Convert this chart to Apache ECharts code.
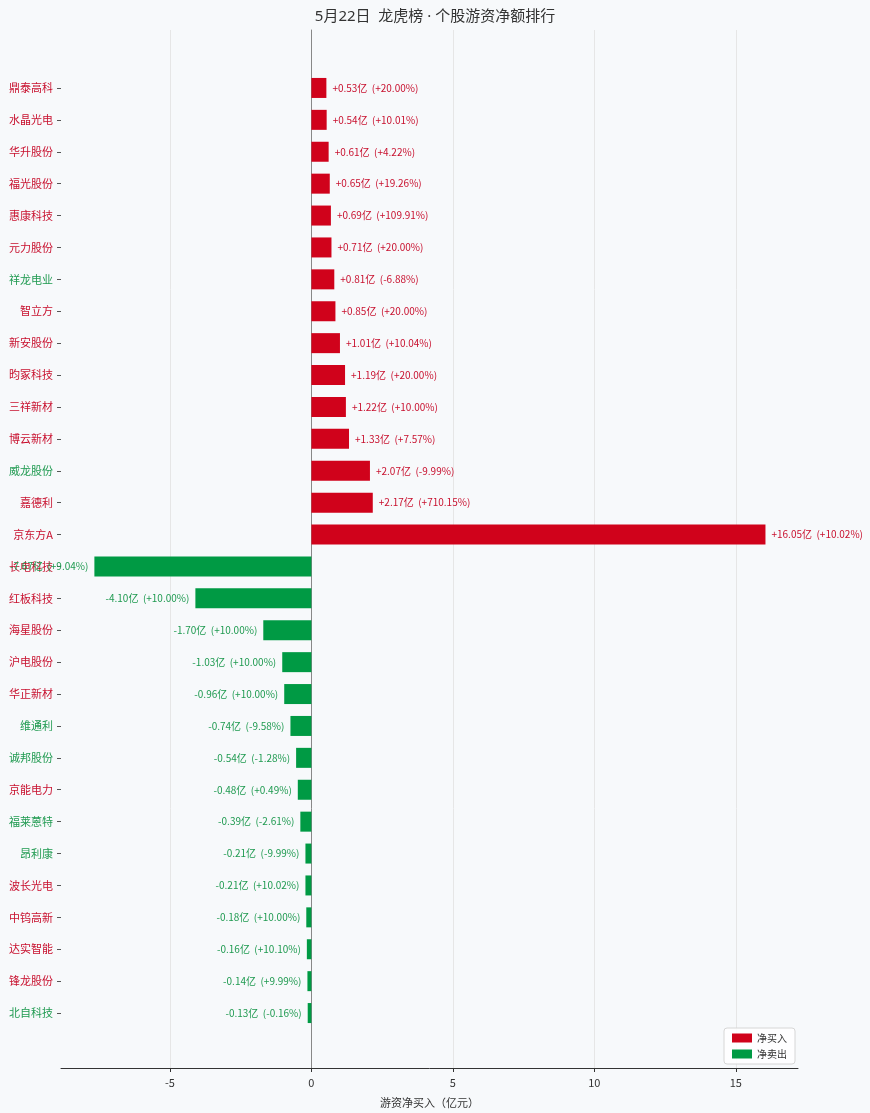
<!DOCTYPE html>
<html>
<head>
<meta charset="utf-8">
<script src="https://cdn.jsdelivr.net/npm/echarts@6/dist/echarts.min.js"></script>
<style>
  html, body { margin: 0; padding: 0; background: #f7f9fb; }
  #main { width: 870px; height: 1113px; }
</style>
</head>
<body>
<div id="main"></div>
<script>
// 个股名称（自上而下）
const stocks = ['鼎泰高科', '水晶光电', '华升股份', '福光股份', '惠康科技', '元力股份', '祥龙电业', '智立方',
  '新安股份', '昀冢科技', '三祥新材', '博云新材', '威龙股份', '嘉德利', '京东方A', '长电科技', '红板科技',
  '海星股份', '沪电股份', '华正新材', '维通利', '诚邦股份', '京能电力', '福莱蒽特', '昂利康', '波长光电',
  '中钨高新', '达实智能', '锋龙股份', '北自科技'];
// 游资净买入（亿元）
const netAmount = [0.53, 0.54, 0.61, 0.65, 0.69, 0.71, 0.81, 0.85, 1.01, 1.19, 1.22, 1.33, 2.07, 2.17, 16.05,
  -7.67, -4.10, -1.70, -1.03, -0.96, -0.74, -0.54, -0.48, -0.39, -0.21, -0.21, -0.18, -0.16, -0.14, -0.13];
// 当日涨跌幅（%）
const pctChange = [20.00, 10.01, 4.22, 19.26, 109.91, 20.00, -6.88, 20.00, 10.04, 20.00, 10.00, 7.57, -9.99,
  710.15, 10.02, 9.04, 10.00, 10.00, 10.00, 10.00, -9.58, -1.28, 0.49, -2.61, -9.99, 10.02, 10.00, 10.10,
  9.99, -0.16];
const xTicks = [-5, 0, 5, 10, 15];

const RED = '#d0021b';
const GREEN = '#009a44';
const RED_TXT = '#c8102e';
const GREEN_TXT = '#1f9a50';

const xMin = -8.85;
const xMax = 17.2;

const buyData = netAmount.map(v => (v > 0 ? v : '-'));
const sellData = netAmount.map(v => (v < 0 ? v : '-'));

function fmtPct(p) {
  return (p >= 0 ? '+' : '') + p.toFixed(2) + '%';
}
function fmtLabel(params) {
  const v = netAmount[params.dataIndex];
  return (v >= 0 ? '+' : '') + v.toFixed(2) + '亿  (' + fmtPct(pctChange[params.dataIndex]) + ')';
}

const chart = echarts.init(document.getElementById('main'));
chart.setOption({
  backgroundColor: '#f7f9fb',
  textStyle: { fontFamily: 'Noto Sans CJK SC' },
  title: {
    text: '5月22日  龙虎榜 · 个股游资净额排行',
    left: 'center',
    top: 4,
    textStyle: { fontSize: 15, fontWeight: 'normal', color: '#333', fontFamily: 'Noto Sans, Noto Sans CJK SC' }
  },
  legend: {
    data: ['净买入', '净卖出'],
    orient: 'vertical',
    right: 75,
    bottom: 49,
    icon: 'rect',
    itemWidth: 20,
    itemHeight: 9,
    itemGap: 6,
    padding: [5, 8],
    backgroundColor: 'rgba(255,255,255,0.85)',
    borderColor: '#d6d6d6',
    borderWidth: 1,
    borderRadius: 3,
    textStyle: { fontSize: 10, color: '#333' }
  },
  grid: [
    { left: 61, right: 72, top: 72, bottom: 84 },
    { left: 61, right: 72, top: 30, bottom: 42 }
  ],
  xAxis: [
    { type: 'value', gridIndex: 0, min: xMin, max: xMax, show: false },
    {
      type: 'value', gridIndex: 1, min: xMin, max: xMax,
      name: '游资净买入（亿元）',
      nameLocation: 'middle',
      nameGap: 29,
      nameTextStyle: { fontSize: 11, color: '#333' },
      axisLine: { show: true, lineStyle: { color: '#333' } },
      axisTick: { show: true, length: 4, customValues: xTicks, lineStyle: { color: '#333' } },
      axisLabel: { fontSize: 11, color: '#333', margin: 9, customValues: xTicks },
      splitLine: { show: true, lineStyle: { color: '#e6e6e6' } }
    }
  ],
  yAxis: [
    {
      type: 'category', gridIndex: 0, data: stocks, inverse: true,
      axisLine: { show: false, onZero: false },
      axisTick: { show: true, length: 4, alignWithLabel: true, lineStyle: { color: '#555' } },
      axisLabel: {
        fontSize: 11,
        margin: 8,
        color: (val, idx) => (pctChange[idx] >= 0 ? RED_TXT : GREEN_TXT)
      }
    },
    {
      type: 'value', gridIndex: 1, min: 0, max: 1,
      axisLine: { show: true, onZero: true, lineStyle: { color: '#888' } },
      axisTick: { show: false },
      axisLabel: { show: false },
      splitLine: { show: false }
    }
  ],
  series: [
    {
      name: '净买入',
      type: 'bar',
      xAxisIndex: 0,
      yAxisIndex: 0,
      stack: 'net',
      barWidth: 20,
      data: buyData,
      itemStyle: { color: RED },
      label: { show: true, position: 'right', distance: 6, fontSize: 10, color: RED_TXT, formatter: fmtLabel }
    },
    {
      name: '净卖出',
      type: 'bar',
      xAxisIndex: 0,
      yAxisIndex: 0,
      stack: 'net',
      barWidth: 20,
      data: sellData,
      itemStyle: { color: GREEN },
      label: { show: true, position: 'left', distance: 6, fontSize: 10, color: GREEN_TXT, formatter: fmtLabel }
    }
  ]
});
</script>
</body>
</html>
